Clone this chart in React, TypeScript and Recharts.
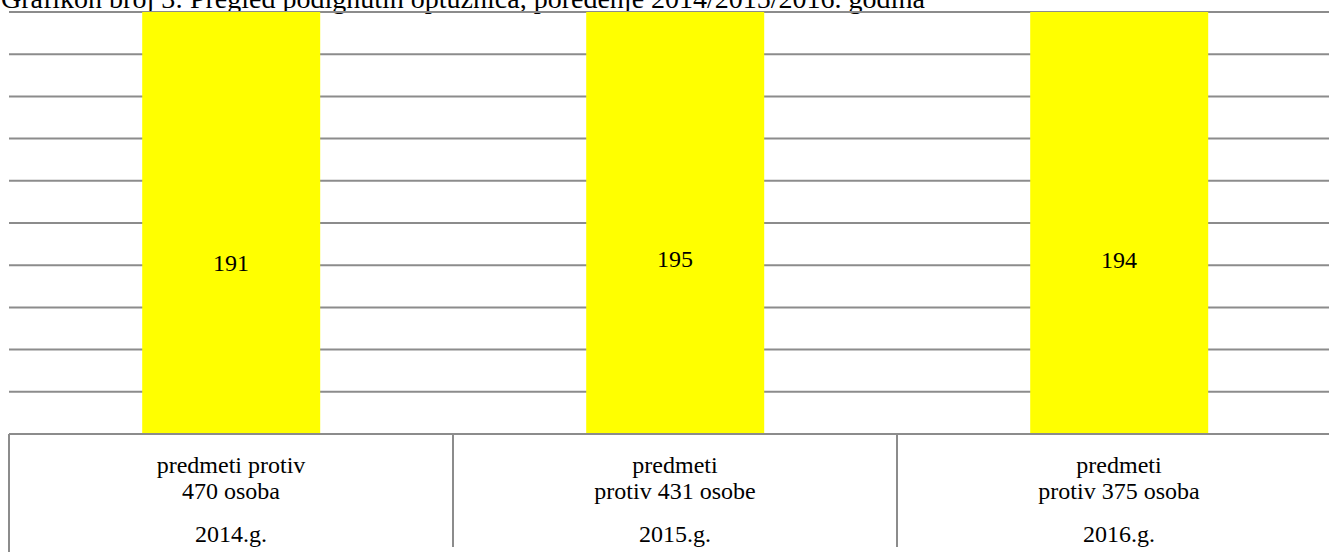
import { ComposedChart, Bar, Line, XAxis, YAxis, CartesianGrid, LabelList } from "recharts";

// Grafikon broj 3 - podignute optužnice po godinama
const years = ["2014.g.", "2015.g.", "2016.g."];
const subjectLine1 = ["predmeti protiv", "predmeti", "predmeti"];
const subjectLine2 = ["470 osoba", "protiv 431 osobe", "protiv 375 osoba"];
const indictments = [191, 195, 194];

// bars run past the top of the plot (clipped), like the original
const barAxisMax = 100;
const barAxisTicks = [0, 10, 20, 30, 40, 50, 60, 70, 80, 90, 100];
// hidden axis that places the value labels halfway up an unclipped bar
const labelAxisMax = 470;

const title = "Grafikon broj 3: Pregled podignutih optužnica, poređenje 2014/2015/2016. godina";

const FONT = '"Liberation Serif", "Times New Roman", serif';
const LINE = "#8c8c8c";

const data = years.map((year, i) => ({
  year,
  line1: subjectLine1[i],
  line2: subjectLine2[i],
  value: indictments[i],
}));

const textStyle = { fontFamily: FONT, fontSize: 24, fill: "#000" };

const CategoryTick = (props: any) => {
  const { x, y, payload, index } = props;
  const half = payload?.offset ?? 222;
  const row = data[index] ?? data.find((d) => d.year === payload.value);
  return (
    <g>
      {index === 0 && <line x1={x - half} x2={x - half} y1={y} y2={y + 118} stroke={LINE} strokeWidth={2} />}
      <line x1={x + half} x2={x + half} y1={y} y2={y + 113} stroke={LINE} strokeWidth={2} />
      <text x={x} y={y + 39} textAnchor="middle" style={textStyle}>{row?.line1}</text>
      <text x={x} y={y + 65} textAnchor="middle" style={textStyle}>{row?.line2}</text>
      <text x={x} y={y + 108} textAnchor="middle" style={textStyle}>{payload.value}</text>
    </g>
  );
};

const ValueLabel = (props: any) => {
  const { x, y, value } = props;
  return (
    <text x={x} y={y} dy={8} textAnchor="middle" style={textStyle}>
      {value}
    </text>
  );
};

const gridRows = ({ yAxis, offset }: any) => {
  if (yAxis && typeof yAxis.scale === "function") return barAxisTicks.map((t) => yAxis.scale(t));
  return barAxisTicks.map((t) => offset.top + offset.height * (1 - t / barAxisMax));
};

export default function App() {
  return (
    <div style={{ position: "absolute", left: 0, top: 0, width: 1329, height: 552, overflow: "hidden", background: "#fff" }}>
      <svg width={1329} height={20} style={{ position: "absolute", left: 0, top: 0 }}>
        <text x={1} y={8} style={{ fontFamily: FONT, fontSize: 28, fill: "#000" }}>{title}</text>
      </svg>
      <div style={{ position: "absolute", left: 0, top: 0 }}>
        <ComposedChart
          width={1341}
          height={552}
          data={data}
          margin={{ top: 12, right: 0, left: 9, bottom: 0 }}
          barCategoryGap="30%"
        >
          <CartesianGrid
            yAxisId="bar"
            vertical={false}
            stroke={LINE}
            strokeWidth={2}
            strokeOpacity={1}
            horizontalCoordinatesGenerator={gridRows}
          />
          <XAxis
            dataKey="year"
            height={118}
            interval={0}
            tickSize={0}
            tickMargin={0}
            tickLine={false}
            axisLine={{ stroke: LINE, strokeWidth: 2 }}
            tick={<CategoryTick />}
          />
          <YAxis
            yAxisId="bar"
            width={0}
            domain={[0, barAxisMax]}
            ticks={barAxisTicks}
            allowDataOverflow
            tick={false}
            tickLine={false}
            axisLine={{ stroke: LINE, strokeWidth: 2 }}
          />
          <YAxis yAxisId="label" hide domain={[0, labelAxisMax]} />
          <Bar yAxisId="bar" dataKey="value" fill="#ffff00" isAnimationActive={false} />
          <Line
            yAxisId="label"
            dataKey="value"
            stroke="none"
            dot={false}
            activeDot={false}
            isAnimationActive={false}
          >
            <LabelList dataKey="value" content={<ValueLabel />} />
          </Line>
        </ComposedChart>
      </div>
    </div>
  );
}
